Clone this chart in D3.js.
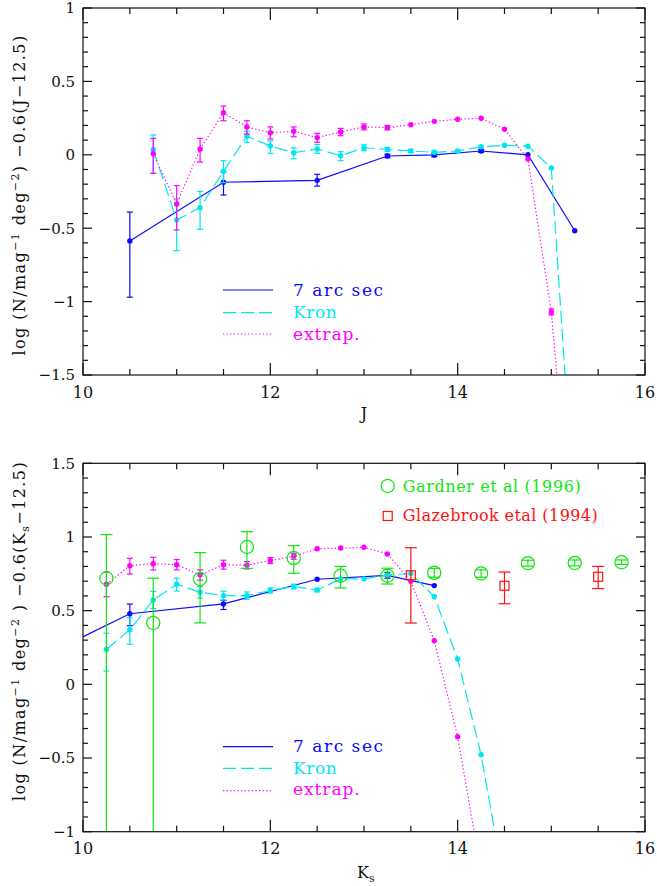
<!DOCTYPE html>
<html><head><meta charset="utf-8">
<script src="https://cdn.jsdelivr.net/npm/d3@7"></script>
<style>body{margin:0;background:#fff} svg text{font-family:"DejaVu Serif",serif}</style>
</head><body><svg id="c" width="657" height="886"></svg>
<script>
// ---------------- DATA ----------------
// Top panel (J band)
const jArcX  = [10.5, 11.5, 12.5, 13.25, 13.75, 14.25, 14.75, 15.25];
const jArcY  = [-0.587, -0.187, -0.174, -0.008, -0.001, 0.026, 0.0, -0.517];
const jArcHi = [-0.39, -0.115, -0.133, 0.004, 0.011, 0.036, null, null];
const jArcLo = [-0.97, -0.274, -0.213, -0.02, -0.013, 0.016, null, null];

const jKronX  = [10.75, 11.0, 11.25, 11.5, 11.75, 12.0, 12.25, 12.5, 12.75, 13.0, 13.25, 13.5, 13.75, 14.0, 14.25, 14.5, 14.75, 15.0, 15.25];
const jKronY  = [0.035, -0.444, -0.36, -0.113, 0.126, 0.06, 0.014, 0.04, -0.006, 0.048, 0.037, 0.026, 0.017, 0.026, 0.055, 0.065, 0.058, -0.09, -2.5];
const jKronHi = [0.135, -0.30, -0.25, -0.04, 0.16, 0.096, 0.048, 0.071, 0.021, 0.068, 0.05, 0.037, 0.027, 0.034, 0.062, null, null, null, null];
const jKronLo = [-0.126, -0.653, -0.507, -0.19, 0.085, 0.01, -0.027, 0.01, -0.04, 0.028, 0.024, 0.015, 0.007, 0.018, 0.048, null, null, null, null];

const jExtX  = [10.75, 11.0, 11.25, 11.5, 11.75, 12.0, 12.25, 12.5, 12.75, 13.0, 13.25, 13.5, 13.75, 14.0, 14.25, 14.5, 14.75, 15.0, 15.25];
const jExtY  = [0.008, -0.335, 0.04, 0.287, 0.19, 0.151, 0.16, 0.117, 0.155, 0.19, 0.185, 0.205, 0.228, 0.242, 0.249, 0.174, -0.029, -1.071, -2.9];
const jExtHi = [0.112, -0.21, 0.112, 0.332, 0.232, 0.19, 0.19, 0.146, 0.18, 0.21, 0.2, null, null, null, null, null, null, -1.05, null];
const jExtLo = [-0.126, -0.512, -0.05, 0.232, 0.142, 0.108, 0.123, 0.085, 0.13, 0.17, 0.17, null, null, null, null, null, null, -1.09, null];

// Bottom panel (Ks band)
const kArcX  = [9.75, 10.5, 11.5, 12.5, 13.25, 13.75];
const kArcY  = [0.245, 0.479, 0.546, 0.713, 0.74, 0.67];
const kArcHi = [null, 0.545, 0.57, null, 0.76, null];
const kArcLo = [null, 0.398, 0.508, null, 0.72, null];

const kKronX  = [10.25, 10.5, 10.75, 11.0, 11.25, 11.5, 11.75, 12.0, 12.25, 12.5, 12.75, 13.0, 13.25, 13.5, 13.75, 14.0, 14.25, 14.5];
const kKronY  = [0.237, 0.37, 0.572, 0.68, 0.625, 0.602, 0.602, 0.637, 0.664, 0.64, 0.715, 0.716, 0.743, 0.752, 0.596, 0.172, -0.478, -1.37];
const kKronHi = [0.347, 0.452, 0.63, 0.72, 0.665, 0.632, 0.627, 0.655, 0.68, 0.652, null, null, null, null, null, null, null, null];
const kKronLo = [0.09, 0.272, 0.515, 0.633, 0.585, 0.572, 0.577, 0.619, 0.648, 0.628, null, null, null, null, null, null, null, null];

const kExtX  = [10.25, 10.5, 10.75, 11.0, 11.25, 11.5, 11.75, 12.0, 12.25, 12.5, 12.75, 13.0, 13.25, 13.5, 13.75, 14.0, 14.25];
const kExtY  = [0.68, 0.805, 0.819, 0.812, 0.742, 0.812, 0.808, 0.84, 0.869, 0.92, 0.925, 0.93, 0.885, 0.699, 0.296, -0.356, -1.27];
const kExtHi = [0.76, 0.855, 0.862, 0.847, 0.777, 0.842, 0.833, 0.86, 0.889, null, null, null, null, null, null, null, null];
const kExtLo = [0.595, 0.749, 0.776, 0.777, 0.707, 0.782, 0.783, 0.82, 0.849, null, null, null, null, null, null, null, null];

const gardnerX  = [10.25, 10.75, 11.25, 11.75, 12.25, 12.75, 13.25, 13.75, 14.25, 14.75, 15.25, 15.75];
const gardnerY  = [0.72, 0.417, 0.715, 0.932, 0.857, 0.737, 0.737, 0.757, 0.752, 0.822, 0.824, 0.829];
const gardnerHi = [1.016, 0.72, 0.894, 1.036, 0.941, 0.80, 0.788, 0.787, 0.777, 0.842, 0.844, 0.844];
const gardnerLo = [-1.5, -1.5, 0.417, 0.787, 0.754, 0.654, 0.681, 0.727, 0.727, 0.802, 0.804, 0.814];

const glazeX  = [13.5, 14.5, 15.5];
const glazeY  = [0.74, 0.669, 0.73];
const glazeHi = [0.927, 0.762, 0.8];
const glazeLo = [0.416, 0.547, 0.65];

const xTickLabels = [10, 12, 14, 16];
const legendLabels = ["7 arc sec", "Kron", "extrap."];

// ---------------- STYLE ----------------
const BLUE = "#0a0aff", CYAN = "#00e6f0", MAG = "#ff00ff", GREEN = "#10e610", RED = "#ff1010";
const svg = d3.select("#c");
const X0 = 83, X1 = 645;

function makePanel(id, pTop, pBottom, ymin, ymax) {
  const x = d3.scaleLinear().domain([10, 16]).range([X0, X1]);
  const y = d3.scaleLinear().domain([ymin, ymax]).range([pBottom, pTop]);
  const g = svg.append("g");
  svg.append("clipPath").attr("id", id).append("rect")
    .attr("x", X0).attr("y", pTop).attr("width", X1 - X0).attr("height", pBottom - pTop);
  const data = g.append("g").attr("clip-path", `url(#${id})`);
  return {x, y, g, data, pTop, pBottom, ymin, ymax};
}

function drawFrame(p, yLabelVals) {
  const {x, y, g, pTop, pBottom} = p;
  const ax = g.append("g").attr("stroke", "#111").attr("stroke-width", 1.2);
  d3.range(10, 16.001, 0.5).forEach(v => {
    const major = Math.abs(v / 2 - Math.round(v / 2)) < 1e-6;
    const L = major ? 12 : 6;
    ax.append("line").attr("x1", x(v)).attr("x2", x(v)).attr("y1", pBottom).attr("y2", pBottom - L);
    ax.append("line").attr("x1", x(v)).attr("x2", x(v)).attr("y1", pTop).attr("y2", pTop + L);
  });
  const n = Math.round((p.ymax - p.ymin) / 0.1);
  for (let i = 0; i <= n; i++) {
    const v = p.ymin + i * 0.1;
    const major = i % 5 === 0;
    const L = major ? 9 : 5;
    ax.append("line").attr("x1", X0).attr("x2", X0 + L).attr("y1", y(v)).attr("y2", y(v));
    ax.append("line").attr("x1", X1).attr("x2", X1 - L).attr("y1", y(v)).attr("y2", y(v));
  }
  ax.append("rect").attr("x", X0).attr("y", pTop).attr("width", X1 - X0).attr("height", pBottom - pTop)
    .attr("fill", "none");
  xTickLabels.forEach(v => {
    g.append("text").attr("x", x(v)).attr("y", pBottom + 22.5).attr("text-anchor", "middle")
      .attr("font-size", 16).attr("fill", "#111").text(v);
  });
  yLabelVals.forEach(v => {
    const s = (v < 0 ? "\u2212" : "") + String(Math.abs(v));
    g.append("text").attr("x", 75).attr("y", y(v)).attr("dy", "0.36em").attr("text-anchor", "end")
      .attr("font-size", 15).attr("fill", "#111").text(s);
  });
}

function drawSeries(p, xs, ys, his, los, color, dash, opts = {}) {
  const {x, y, data} = p;
  const pts = xs.map((v, i) => ({x: v, y: ys[i], hi: his[i], lo: los[i]}));
  if (!opts.noLine) {
    data.append("path").datum(pts)
      .attr("d", d3.line().x(d => x(d.x)).y(d => y(d.y)))
      .attr("fill", "none").attr("stroke", color).attr("stroke-width", 1.2)
      .attr("stroke-dasharray", dash || null);
  }
  const eb = data.append("g").attr("stroke", color).attr("stroke-width", 1.2);
  pts.filter(d => d.hi != null).forEach(d => {
    const cx = x(d.x), cap = opts.cap || 3;
    eb.append("line").attr("x1", cx).attr("x2", cx).attr("y1", y(d.lo)).attr("y2", y(d.hi));
    [d.lo, d.hi].forEach(e => eb.append("line").attr("x1", cx - cap).attr("x2", cx + cap).attr("y1", y(e)).attr("y2", y(e)));
  });
  const mk = data.append("g");
  pts.forEach(d => {
    const cx = x(d.x), cy = y(d.y);
    if (opts.marker === "ocircle") {
      mk.append("circle").attr("cx", cx).attr("cy", cy).attr("r", 6.6)
        .attr("fill", "none").attr("stroke", color).attr("stroke-width", 1.2);
    } else if (opts.marker === "osquare") {
      mk.append("rect").attr("x", cx - 4.5).attr("y", cy - 4.5).attr("width", 9).attr("height", 9)
        .attr("fill", "none").attr("stroke", color).attr("stroke-width", 1.2);
    } else {
      mk.append("circle").attr("cx", cx).attr("cy", cy).attr("r", 2.7).attr("fill", color);
    }
  });
}

function lineLegend(p, ys, baselines) {
  const styles = [[BLUE, null], [CYAN, "13,5"], [MAG, "1.3,2.3"]];
  const widths = [90, 43.7, 66.7];
  styles.forEach((s, i) => {
    p.g.append("line").attr("x1", 223).attr("x2", 273).attr("y1", ys[i]).attr("y2", ys[i])
      .attr("stroke", s[0]).attr("stroke-width", 1.2).attr("stroke-dasharray", s[1]);
    p.g.append("text").attr("x", 293).attr("y", baselines[i]).attr("font-size", 17)
      .attr("fill", s[0]).attr("textLength", widths[i]).attr("lengthAdjust", "spacing")
      .text(legendLabels[i]);
  });
}

function yTitle(cx, cy, sub) {
  const t = svg.append("text").attr("transform", `translate(${cx},${cy}) rotate(-90)`)
    .attr("text-anchor", "middle").attr("font-size", 16).attr("letter-spacing", 1.4).attr("fill", "#111");
  t.append("tspan").text("log (N/mag");
  t.append("tspan").attr("dy", -6).attr("font-size", 11).text("\u22121");
  t.append("tspan").attr("dy", 6).text(" deg");
  t.append("tspan").attr("dy", -6).attr("font-size", 11).text("\u22122");
  if (sub) {
    t.append("tspan").attr("dy", 6).text(" )  \u22120.6(K");
    t.append("tspan").attr("dy", 4).attr("font-size", 11).text("s");
    t.append("tspan").attr("dy", -4).text("\u221212.5)");
  } else {
    t.append("tspan").attr("dy", 6).text(")  \u22120.6(J\u221212.5)");
  }
}

// ---------------- TOP PANEL ----------------
const topP = makePanel("clipTop", 8, 375, -1.5, 1);
drawSeries(topP, jArcX, jArcY, jArcHi, jArcLo, BLUE, null);
drawSeries(topP, jKronX, jKronY, jKronHi, jKronLo, CYAN, "13,5");
drawSeries(topP, jExtX, jExtY, jExtHi, jExtLo, MAG, "1.3,2.3");
drawFrame(topP, [1, 0.5, 0, -0.5, -1, -1.5]);
lineLegend(topP, [290, 312.7, 334], [295.5, 318, 339.5]);
topP.g.append("text").attr("x", 364).attr("y", 419).attr("text-anchor", "middle")
  .attr("font-size", 16).attr("fill", "#111").text("J");
yTitle(25, 195, false);

// ---------------- BOTTOM PANEL ----------------
const botP = makePanel("clipBot", 463.3, 831.7, -1, 1.5);
drawSeries(botP, kArcX, kArcY, kArcHi, kArcLo, BLUE, null);
drawSeries(botP, kKronX, kKronY, kKronHi, kKronLo, CYAN, "13,5");
drawSeries(botP, kExtX, kExtY, kExtHi, kExtLo, MAG, "1.3,2.3");
drawSeries(botP, gardnerX, gardnerY, gardnerHi, gardnerLo, GREEN, null, {noLine: true, marker: "ocircle", cap: 6});
drawSeries(botP, glazeX, glazeY, glazeHi, glazeLo, RED, null, {noLine: true, marker: "osquare", cap: 6});
drawFrame(botP, [1.5, 1, 0.5, 0, -0.5, -1]);
lineLegend(botP, [746.7, 768.3, 790.7], [752.3, 773.8, 795]);
botP.g.append("circle").attr("cx", 387.7).attr("cy", 486).attr("r", 6.6)
  .attr("fill", "none").attr("stroke", GREEN).attr("stroke-width", 1.2);
botP.g.append("text").attr("x", 402.7).attr("y", 491.5).attr("font-size", 16).attr("fill", GREEN)
  .attr("textLength", 178).attr("lengthAdjust", "spacing").text("Gardner et al (1996)");
botP.g.append("rect").attr("x", 383.2).attr("y", 511.5).attr("width", 9).attr("height", 9)
  .attr("fill", "none").attr("stroke", RED).attr("stroke-width", 1.2);
botP.g.append("text").attr("x", 402.7).attr("y", 520.5).attr("font-size", 16).attr("fill", RED)
  .attr("textLength", 195).attr("lengthAdjust", "spacing").text("Glazebrook etal (1994)");
const ks = botP.g.append("text").attr("x", 357).attr("y", 878).attr("font-size", 16).attr("fill", "#111");
ks.append("tspan").text("K");
ks.append("tspan").attr("dy", 4).attr("font-size", 11).text("s");
yTitle(25, 631, true);
</script></body></html>
